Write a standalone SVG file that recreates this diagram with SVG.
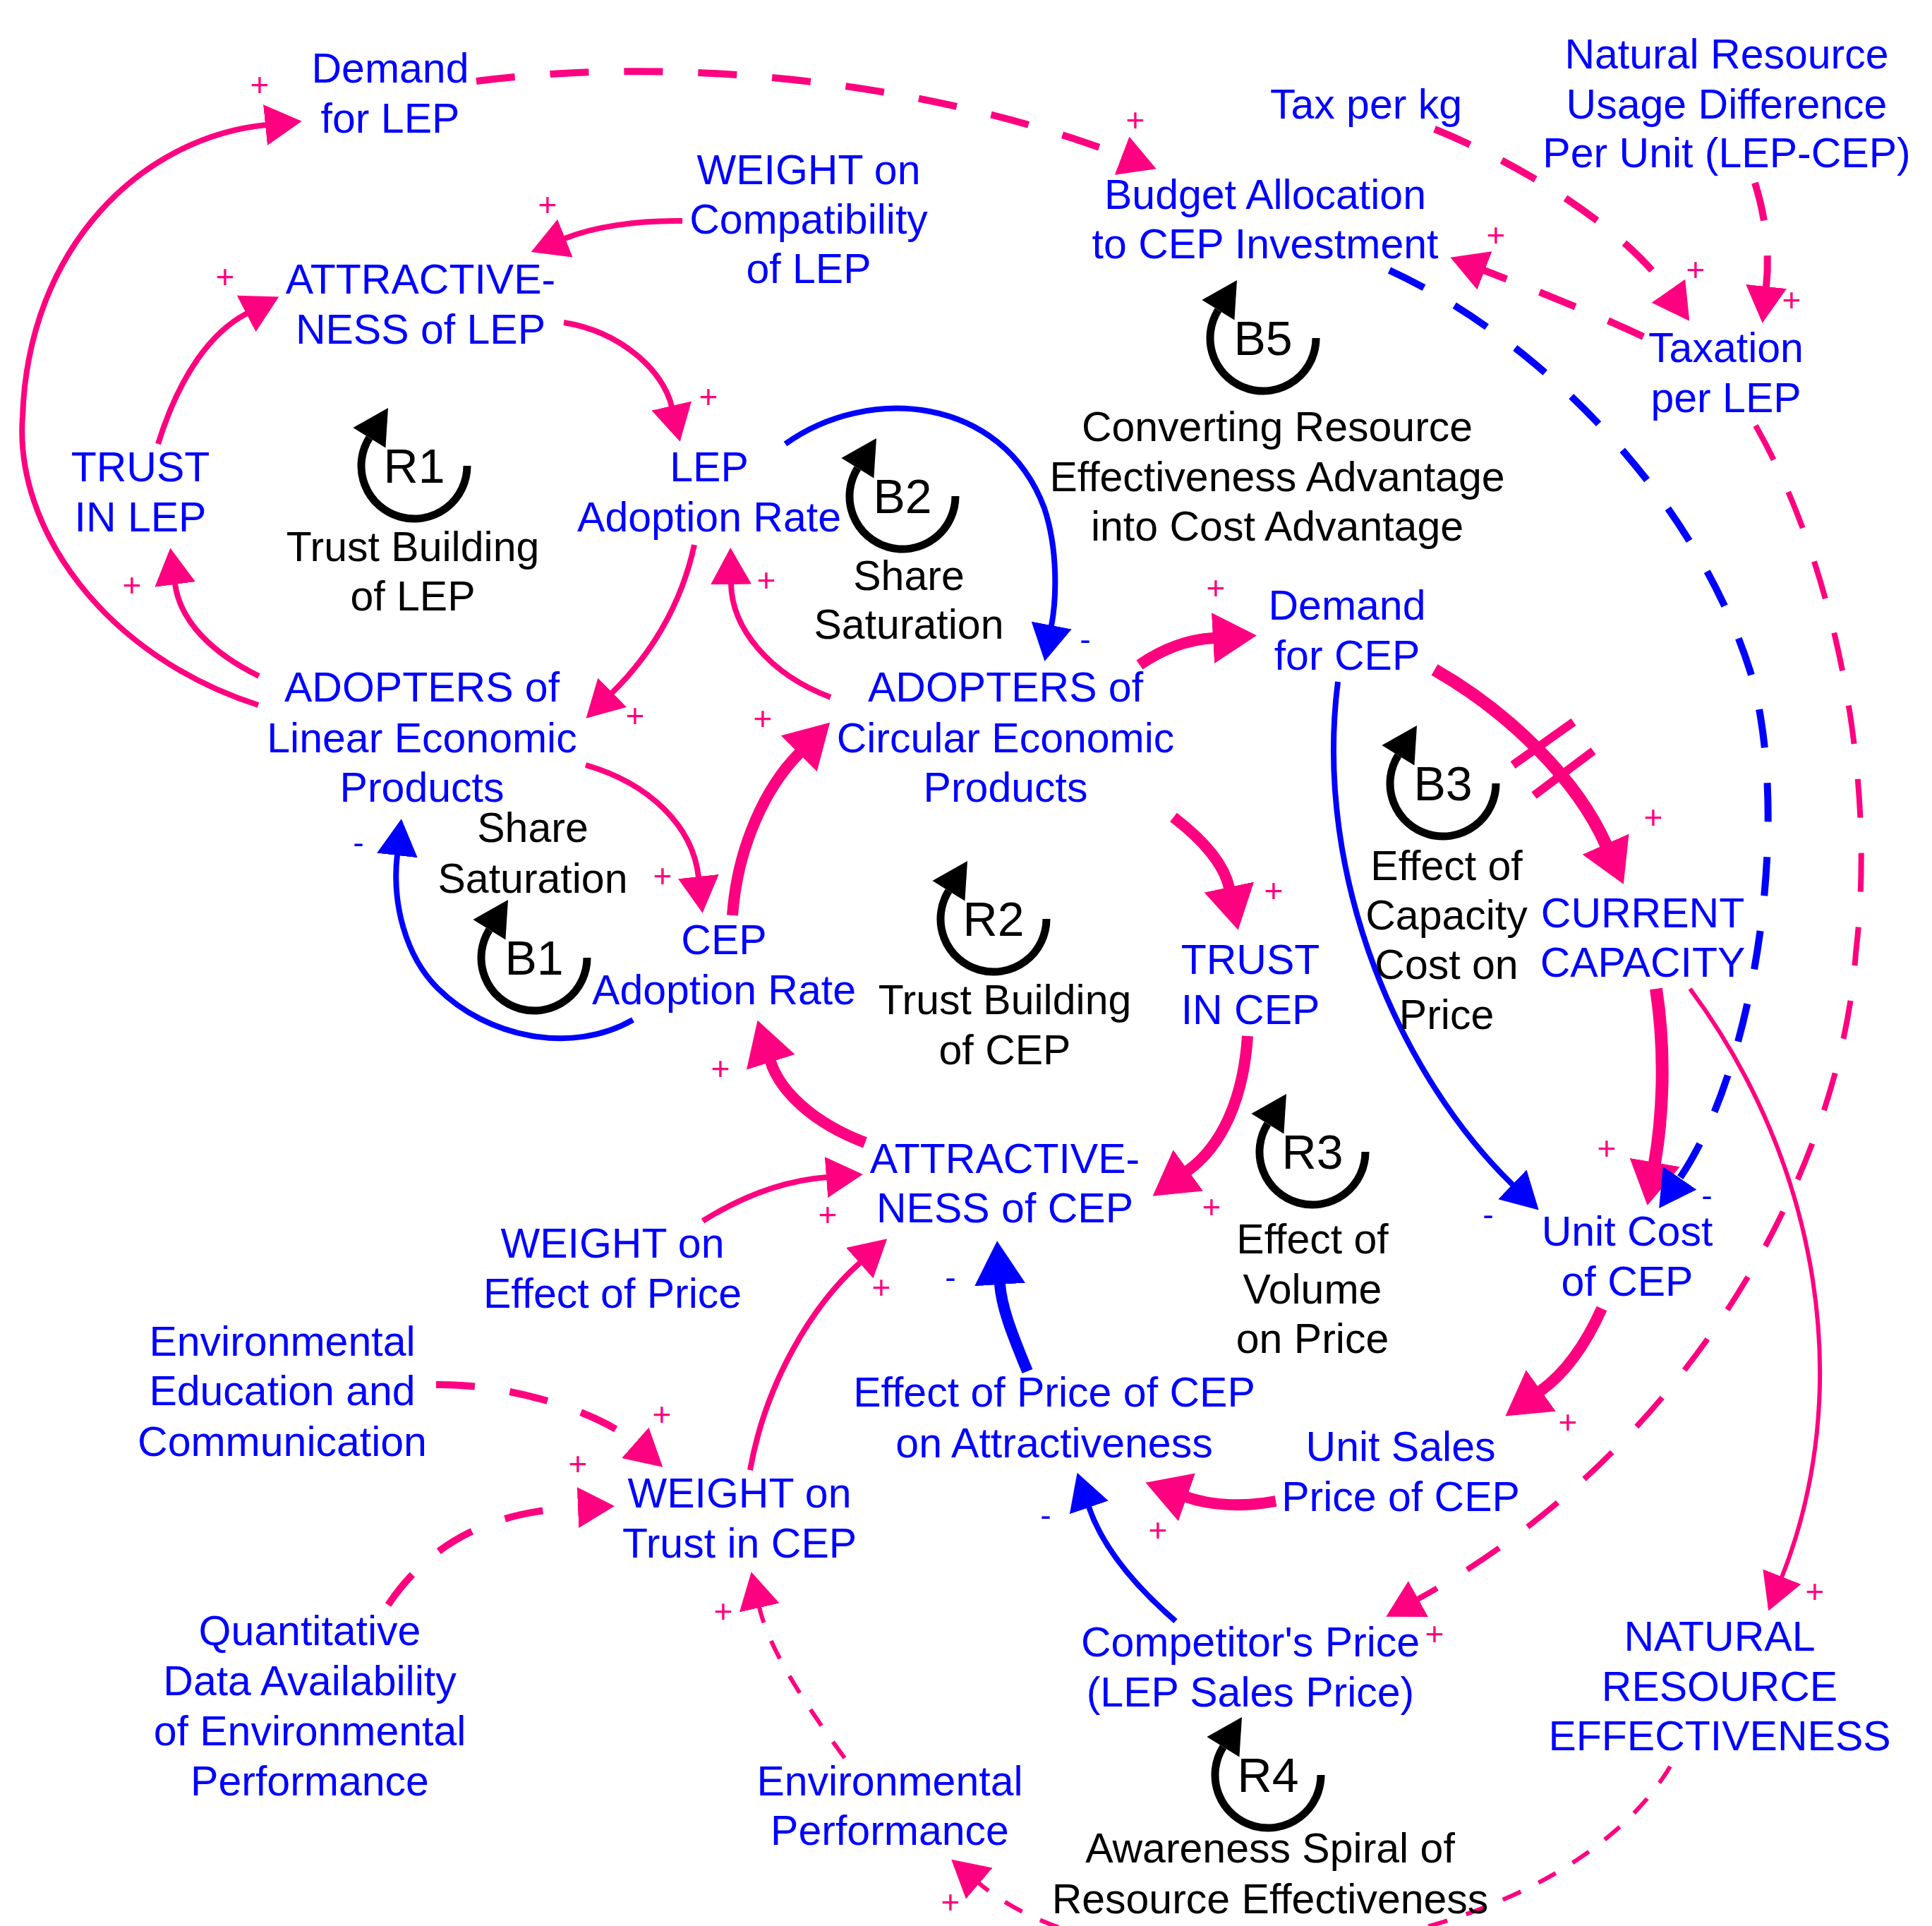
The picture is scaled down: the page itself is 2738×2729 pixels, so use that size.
<svg xmlns="http://www.w3.org/2000/svg" width="2738" height="2729" viewBox="0 0 2738 2729">
<defs>
<style>
text{font-family:"Liberation Sans",Arial,sans-serif}
.n{fill:#0000ff;font-size:59px;text-anchor:middle}
.l{fill:#000;font-size:59px;text-anchor:middle}
.lid{fill:#000;font-size:68px;text-anchor:middle}
.p{fill:#ff0080;font-size:46px;text-anchor:middle}
.m{fill:#0000ff;font-size:46px;text-anchor:middle}
.c{fill:none;stroke:#ff0080}
.b{fill:none;stroke:#0000ff}
.w6{stroke-width:6}.w8{stroke-width:8}.w10{stroke-width:10}.w16{stroke-width:16}.w18{stroke-width:18}
.d{stroke-dasharray:55 50}
.dt{stroke-dasharray:28 28}
.loop{fill:none;stroke:#000;stroke-width:11}
</style>
<marker id="ap" markerUnits="userSpaceOnUse" viewBox="0 0 52 58" markerWidth="52" markerHeight="58" refX="1" refY="29" orient="auto"><path d="M0,0 L52,29 L0,58 Z" fill="#ff0080"/></marker>
<marker id="apb" markerUnits="userSpaceOnUse" viewBox="0 0 62 72" markerWidth="62" markerHeight="72" refX="1" refY="36" orient="auto"><path d="M0,0 L62,36 L0,72 Z" fill="#ff0080"/></marker>
<marker id="ab" markerUnits="userSpaceOnUse" viewBox="0 0 52 58" markerWidth="52" markerHeight="58" refX="1" refY="29" orient="auto"><path d="M0,0 L52,29 L0,58 Z" fill="#0000ff"/></marker>
<marker id="abb" markerUnits="userSpaceOnUse" viewBox="0 0 62 72" markerWidth="62" markerHeight="72" refX="1" refY="36" orient="auto"><path d="M0,0 L62,36 L0,72 Z" fill="#0000ff"/></marker>
<g id="loopsym"><path class="loop" d="M75,0 A75,75 0 1 1 -63.6,-39.7"/><polygon points="-37,-82 -40.6,-25.4 -86.6,-54" fill="#000"/></g>
</defs>
<rect width="2738" height="2729" fill="#fff"/>

<g id="connectors">
<path class="c w8" marker-end="url(#ap)" d="M366 999 C150 930 20 750 32 590 C40 350 200 195 377 177"/>
<path class="c w8" marker-end="url(#ap)" d="M367 958 C300 925 255 880 248 827"/>
<path class="c w8" marker-end="url(#ap)" d="M224 629 C255 530 300 470 350 444"/>
<path class="c w8" marker-end="url(#ap)" d="M967 313 C900 312 840 322 800 338"/>
<path class="c w8" marker-end="url(#ap)" d="M799 457 C880 470 940 525 952 576"/>
<path class="c w8" marker-end="url(#ap)" d="M984 772 C965 860 920 930 867 982"/>
<path class="c w8" marker-end="url(#ap)" d="M830 1084 C920 1110 982 1170 990 1243"/>
<path class="c w16" marker-end="url(#apb)" d="M1038 1297 C1045 1200 1085 1115 1133 1067"/>
<path class="c w8" marker-end="url(#ap)" d="M1177 988 C1090 955 1037 890 1036 827"/>
<path class="b w8" marker-end="url(#ab)" d="M1113 629 C1230 545 1420 560 1480 720 C1500 780 1497 850 1490 887"/>
<path class="c w16" marker-end="url(#apb)" d="M1615 942 C1650 918 1685 906 1720 904"/>
<path class="c w16" marker-end="url(#apb)" d="M1663 1158 C1705 1190 1735 1225 1742 1258"/>
<path class="c w16" marker-end="url(#apb)" d="M1768 1468 C1762 1560 1730 1625 1683 1659"/>
<path class="c w16" marker-end="url(#apb)" d="M1226 1619 C1150 1590 1105 1545 1092 1504"/>
<path class="c w8" marker-end="url(#ap)" d="M996 1730 C1060 1690 1120 1672 1172 1668"/>
<path class="c w8" marker-end="url(#ap)" d="M1063 2083 C1085 1960 1150 1850 1219 1789"/>
<path class="b w16" marker-end="url(#abb)" d="M1456 1943 C1432 1885 1419 1850 1417 1819"/>
<path class="c w16" marker-end="url(#apb)" d="M1808 2127 C1760 2136 1715 2133 1681 2121"/>
<path class="b w8" marker-end="url(#ab)" d="M1666 2297 C1600 2240 1560 2185 1543 2135"/>
<path class="c w16" marker-end="url(#apb)" d="M2270 1854 C2245 1910 2215 1948 2183 1971"/>
<path class="c w18" marker-end="url(#apb)" d="M2347 1401 C2362 1500 2355 1590 2345 1648"/>
<path class="c w18" marker-end="url(#apb)" d="M2033 949 C2140 1010 2235 1105 2276 1197"/>
<path class="b w8" marker-end="url(#ab)" d="M1896 966 C1860 1250 1990 1530 2144 1679"/>
<path class="b w10 d" marker-end="url(#ab)" d="M1969 383 C2180 480 2400 700 2480 950 C2540 1150 2490 1510 2380 1670"/>
<path class="c w10 d" marker-end="url(#ap)" d="M675 115 C950 80 1300 110 1591 221"/>
<path class="c w10 d" marker-end="url(#ap)" d="M2033 183 C2150 230 2300 320 2365 413"/>
<path class="c w10 d" marker-end="url(#ap)" d="M2487 259 C2503 310 2508 360 2503 407"/>
<path class="c w10 d" marker-end="url(#ap)" d="M2329 477 C2250 440 2160 405 2103 383"/>
<path class="c w8 d" marker-end="url(#ap)" d="M2488 603 C2600 800 2660 1100 2630 1350 C2610 1650 2400 2050 2009 2266"/>
<path class="c w6" marker-end="url(#ap)" d="M2395 1401 C2580 1650 2630 1970 2525 2235"/>
<path class="c w6 dt" marker-end="url(#ap)" d="M2367 2503 C2200 2780 1600 2850 1387 2668"/>
<path class="c w6 dt" marker-end="url(#ap)" d="M1197 2491 C1130 2400 1088 2330 1076 2277"/>
<path class="c w10 d" marker-end="url(#ap)" d="M618 1962 C720 1960 850 2000 901 2045"/>
<path class="c w10 d" marker-end="url(#ap)" d="M550 2274 C620 2170 720 2140 820 2136"/>
<path class="b w8" marker-end="url(#ab)" d="M897 1445 C810 1495 690 1470 620 1400 C575 1355 555 1280 563 1211"/>
<line class="c" stroke-width="12" x1="2144" y1="1084" x2="2230" y2="1023"/>
<line class="c" stroke-width="12" x1="2174" y1="1127" x2="2258" y2="1064"/>
</g>

<g id="polarities">
<text class="p" x="368" y="136">+</text>
<text class="p" x="187" y="845">+</text>
<text class="p" x="319" y="408">+</text>
<text class="p" x="776" y="306">+</text>
<text class="p" x="1004" y="578">+</text>
<text class="p" x="900" y="1030">+</text>
<text class="p" x="939" y="1257">+</text>
<text class="p" x="1081" y="1034">+</text>
<text class="p" x="1086" y="838">+</text>
<text class="m" x="1538" y="922">-</text>
<text class="p" x="1723" y="849">+</text>
<text class="p" x="1805" y="1278">+</text>
<text class="p" x="1717" y="1726">+</text>
<text class="p" x="1021" y="1530">+</text>
<text class="p" x="1173" y="1737">+</text>
<text class="p" x="1249" y="1840">+</text>
<text class="m" x="1347" y="1826">-</text>
<text class="p" x="1641" y="2184">+</text>
<text class="m" x="1482" y="2163">-</text>
<text class="p" x="2222" y="2031">+</text>
<text class="p" x="2277" y="1643">+</text>
<text class="p" x="2343" y="1174">+</text>
<text class="m" x="2109" y="1737">-</text>
<text class="m" x="2419" y="1710">-</text>
<text class="p" x="1609" y="186">+</text>
<text class="p" x="2403" y="398">+</text>
<text class="p" x="2539" y="441">+</text>
<text class="p" x="2120" y="349">+</text>
<text class="p" x="2033" y="2331">+</text>
<text class="p" x="2572" y="2271">+</text>
<text class="p" x="1347" y="2711">+</text>
<text class="p" x="1025" y="2299">+</text>
<text class="p" x="938" y="2020">+</text>
<text class="p" x="819" y="2090">+</text>
<text class="m" x="508" y="1210">-</text>
</g>

<g id="loops">
<g id="loop-R1"><use href="#loopsym" x="587" y="660"/><text class="lid" x="587" y="684">R1</text><text class="l"><tspan x="585" y="795">Trust Building</tspan><tspan x="585" y="865">of LEP</tspan></text></g>
<g id="loop-B2"><use href="#loopsym" x="1279" y="703"/><text class="lid" x="1279" y="727">B2</text><text class="l"><tspan x="1288" y="836">Share</tspan><tspan x="1288" y="905">Saturation</tspan></text></g>
<g id="loop-B5"><use href="#loopsym" x="1790" y="479"/><text class="lid" x="1790" y="503">B5</text><text class="l"><tspan x="1810" y="625">Converting Resource</tspan><tspan x="1810" y="696">Effectiveness Advantage</tspan><tspan x="1810" y="766">into Cost Advantage</tspan></text></g>
<g id="loop-B1"><use href="#loopsym" x="757" y="1357"/><text class="lid" x="757" y="1381">B1</text><text class="l"><tspan x="755" y="1193">Share</tspan><tspan x="755" y="1265">Saturation</tspan></text></g>
<g id="loop-R2"><use href="#loopsym" x="1408" y="1302"/><text class="lid" x="1408" y="1326">R2</text><text class="l"><tspan x="1424" y="1437">Trust Building</tspan><tspan x="1424" y="1508">of CEP</tspan></text></g>
<g id="loop-B3"><use href="#loopsym" x="2045" y="1110"/><text class="lid" x="2045" y="1134">B3</text><text class="l"><tspan x="2050" y="1247">Effect of</tspan><tspan x="2050" y="1317">Capacity</tspan><tspan x="2050" y="1387">Cost on</tspan><tspan x="2050" y="1458">Price</tspan></text></g>
<g id="loop-R3"><use href="#loopsym" x="1860" y="1632"/><text class="lid" x="1860" y="1656">R3</text><text class="l"><tspan x="1860" y="1776">Effect of</tspan><tspan x="1860" y="1847">Volume</tspan><tspan x="1860" y="1917">on Price</tspan></text></g>
<g id="loop-R4"><use href="#loopsym" x="1797" y="2515"/><text class="lid" x="1797" y="2539">R4</text><text class="l"><tspan x="1800" y="2639">Awareness Spiral of</tspan><tspan x="1800" y="2711">Resource Effectiveness</tspan></text></g>
</g>

<g id="nodes">
<g id="demand-lep"><text class="n"><tspan x="553" y="117">Demand</tspan><tspan x="553" y="188">for LEP</tspan></text></g>
<g id="weight-compat"><text class="n"><tspan x="1146" y="261">WEIGHT on</tspan><tspan x="1146" y="331">Compatibility</tspan><tspan x="1146" y="401">of LEP</tspan></text></g>
<g id="attr-lep"><text class="n"><tspan x="596" y="416">ATTRACTIVE-</tspan><tspan x="596" y="487">NESS of LEP</tspan></text></g>
<g id="trust-lep"><text class="n"><tspan x="199" y="682">TRUST</tspan><tspan x="199" y="753">IN LEP</tspan></text></g>
<g id="lep-rate"><text class="n"><tspan x="1005" y="682">LEP</tspan><tspan x="1005" y="753">Adoption Rate</tspan></text></g>
<g id="adopters-lep"><text class="n"><tspan x="598" y="994">ADOPTERS of</tspan><tspan x="598" y="1066">Linear Economic</tspan><tspan x="598" y="1136">Products</tspan></text></g>
<g id="budget"><text class="n"><tspan x="1793" y="296">Budget Allocation</tspan><tspan x="1793" y="366">to CEP Investment</tspan></text></g>
<g id="tax-kg"><text class="n" x="1936" y="168">Tax per kg</text></g>
<g id="nrud"><text class="n"><tspan x="2447" y="97">Natural Resource</tspan><tspan x="2447" y="168">Usage Difference</tspan><tspan x="2447" y="237">Per Unit (LEP-CEP)</tspan></text></g>
<g id="taxation"><text class="n"><tspan x="2446" y="513">Taxation</tspan><tspan x="2446" y="584">per LEP</tspan></text></g>
<g id="demand-cep"><text class="n"><tspan x="1909" y="878">Demand</tspan><tspan x="1909" y="949">for CEP</tspan></text></g>
<g id="adopters-cep"><text class="n"><tspan x="1425" y="994">ADOPTERS of</tspan><tspan x="1425" y="1066">Circular Economic</tspan><tspan x="1425" y="1136">Products</tspan></text></g>
<g id="cep-rate"><text class="n"><tspan x="1026" y="1352">CEP</tspan><tspan x="1026" y="1423">Adoption Rate</tspan></text></g>
<g id="trust-cep"><text class="n"><tspan x="1772" y="1380">TRUST</tspan><tspan x="1772" y="1451">IN CEP</tspan></text></g>
<g id="capacity"><text class="n"><tspan x="2328" y="1314">CURRENT</tspan><tspan x="2328" y="1384">CAPACITY</tspan></text></g>
<g id="attr-cep"><text class="n"><tspan x="1424" y="1662">ATTRACTIVE-</tspan><tspan x="1424" y="1732">NESS of CEP</tspan></text></g>
<g id="weight-price"><text class="n"><tspan x="868" y="1782">WEIGHT on</tspan><tspan x="868" y="1853">Effect of Price</tspan></text></g>
<g id="unit-cost"><text class="n"><tspan x="2306" y="1765">Unit Cost</tspan><tspan x="2306" y="1836">of CEP</tspan></text></g>
<g id="env-edu"><text class="n"><tspan x="400" y="1921">Environmental</tspan><tspan x="400" y="1991">Education and</tspan><tspan x="400" y="2063">Communication</tspan></text></g>
<g id="effect-price"><text class="n"><tspan x="1494" y="1993">Effect of Price of CEP</tspan><tspan x="1494" y="2065">on Attractiveness</tspan></text></g>
<g id="unit-sales"><text class="n"><tspan x="1985" y="2070">Unit Sales</tspan><tspan x="1985" y="2141">Price of CEP</tspan></text></g>
<g id="weight-trust"><text class="n"><tspan x="1048" y="2136">WEIGHT on</tspan><tspan x="1048" y="2207">Trust in CEP</tspan></text></g>
<g id="quant-data"><text class="n"><tspan x="439" y="2331">Quantitative</tspan><tspan x="439" y="2402">Data Availability</tspan><tspan x="439" y="2473">of Environmental</tspan><tspan x="439" y="2544">Performance</tspan></text></g>
<g id="competitor"><text class="n"><tspan x="1772" y="2347">Competitor's Price</tspan><tspan x="1772" y="2418">(LEP Sales Price)</tspan></text></g>
<g id="nre"><text class="n"><tspan x="2437" y="2339">NATURAL</tspan><tspan x="2437" y="2410">RESOURCE</tspan><tspan x="2437" y="2480">EFFECTIVENESS</tspan></text></g>
<g id="env-perf"><text class="n"><tspan x="1261" y="2544">Environmental</tspan><tspan x="1261" y="2614">Performance</tspan></text></g>
</g>
</svg>
